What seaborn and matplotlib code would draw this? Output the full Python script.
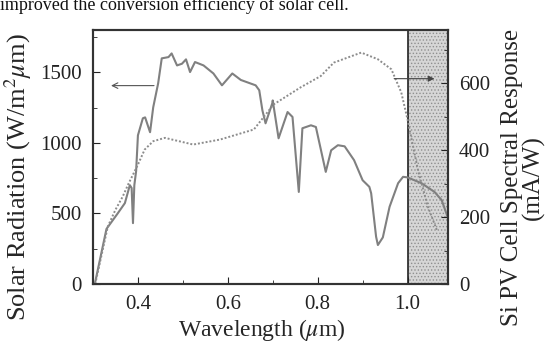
import seaborn as sns
from matplotlib import pyplot as plt
from matplotlib.ticker import MultipleLocator, FormatStrFormatter

# solar radiation (left axis, W/m2 um)
solar_wl = [0.304, 0.33, 0.355, 0.371, 0.382, 0.386, 0.389, 0.392, 0.396, 0.40, 0.411, 0.416,
            0.427, 0.434, 0.445, 0.453, 0.468, 0.475, 0.487, 0.498, 0.507, 0.516, 0.527,
            0.546, 0.568, 0.587, 0.61, 0.629, 0.662, 0.67, 0.677, 0.684, 0.699, 0.70,
            0.713, 0.733, 0.744, 0.758, 0.766, 0.785, 0.796, 0.818, 0.83, 0.845, 0.86,
            0.881, 0.90, 0.915, 0.919, 0.93, 0.934, 0.945, 0.96, 0.979, 0.99, 1.0,
            1.031, 1.06, 1.076, 1.089]
solar_val = [0, 390, 500, 573, 700, 680, 431, 700, 800, 1053, 1174, 1180,
             1075, 1251, 1421, 1598, 1607, 1633, 1548, 1560, 1591, 1501, 1572,
             1548, 1491, 1407, 1491, 1445, 1407, 1372, 1230, 1138, 1280, 1300,
             1032, 1218, 1183, 652, 1103, 1124, 1112, 794, 947, 983, 975,
             877, 735, 688, 643, 335, 276, 330, 547, 714, 759, 755,
             714, 652, 594, 476]

# Si PV cell spectral response (right axis, mA/W)
resp_wl = [0.305, 0.333, 0.35, 0.366, 0.378, 0.40, 0.415, 0.434, 0.46, 0.523, 0.583, 0.658,
           0.702, 0.762, 0.807, 0.836, 0.897, 0.934, 0.964, 0.986, 1.0, 1.023, 1.045, 1.065]
resp_val = [0, 172, 222, 261, 297, 357, 402, 427, 437, 417, 432, 462,
            537, 588, 622, 662, 692, 672, 642, 573, 492, 342, 232, 162]

header = 'improved the conversion efficiency of solar cell.'

sns.set_style('ticks')
plt.rcParams['font.family'] = ['Liberation Serif', 'DejaVu Serif']
plt.rcParams['mathtext.fontset'] = 'stix'
plt.rcParams['hatch.linewidth'] = 0.6

fig = plt.figure(figsize=(5.47, 3.43), dpi=100)
ax = fig.add_axes([0.170, 0.172, 0.649, 0.741])
ax2 = ax.twinx()

ax.axvspan(1.0, 1.1, facecolor='#d6d6d6', edgecolor='#909090', hatch='.....', linewidth=0, zorder=0)
ax.axvline(1.0, color='#222222', lw=1.2, zorder=1)

sns.lineplot(x=solar_wl, y=solar_val, ax=ax, color='#808080', lw=1.5, sort=False)
sns.lineplot(x=resp_wl, y=resp_val, ax=ax2, color='#8c8c8c', lw=1.4, linestyle=(0, (1, 1)), sort=False)

ax.annotate('', xy=(0.334, 1405), xytext=(0.442, 1405),
            arrowprops=dict(arrowstyle='->', color='#555555', lw=0.8))
ax2.annotate('', xy=(1.066, 614), xytext=(0.964, 614),
             arrowprops=dict(arrowstyle='-|>', color='#444444', lw=0.8, mutation_scale=9))

ax.set_xlim(0.3, 1.09)
ax.set_ylim(0, 1800)
ax2.set_ylim(0, 760)

ax.xaxis.set_major_locator(MultipleLocator(0.2))
ax.xaxis.set_minor_locator(MultipleLocator(0.1))
ax.xaxis.set_major_formatter(FormatStrFormatter('%.1f'))
ax.yaxis.set_major_locator(MultipleLocator(500))
ax.yaxis.set_minor_locator(MultipleLocator(250))
ax2.yaxis.set_major_locator(MultipleLocator(200))
ax2.yaxis.set_minor_locator(MultipleLocator(100))

for a in (ax, ax2):
    a.tick_params(which='both', direction='in', labelsize=15, colors='#222222', pad=8)
    a.tick_params(which='major', length=5)
    a.tick_params(which='minor', length=3)
    for s in a.spines.values():
        s.set_visible(True)
        s.set_linewidth(1.5)
        s.set_color('#333333')

ax.set_xlabel('Wavelength ($\\mu$m)', fontsize=17)
ax.xaxis.set_label_coords(0.476, -0.13)
ax.set_ylabel('Solar Radiation (W/m$^2$$\\mu$m)', fontsize=19)
ax.yaxis.set_label_coords(-0.165, 0.42)
ax2.set_ylabel('Si PV Cell Spectral Response\n(mA/W)', fontsize=18, rotation=90,
               va='center', ha='center', multialignment='center', linespacing=0.92)
ax2.yaxis.set_label_coords(1.212, 0.42)

fig.text(0.0, 0.972, header, fontsize=13, va='baseline', ha='left', color='#111111')

fig.savefig('out.png', dpi=100)
